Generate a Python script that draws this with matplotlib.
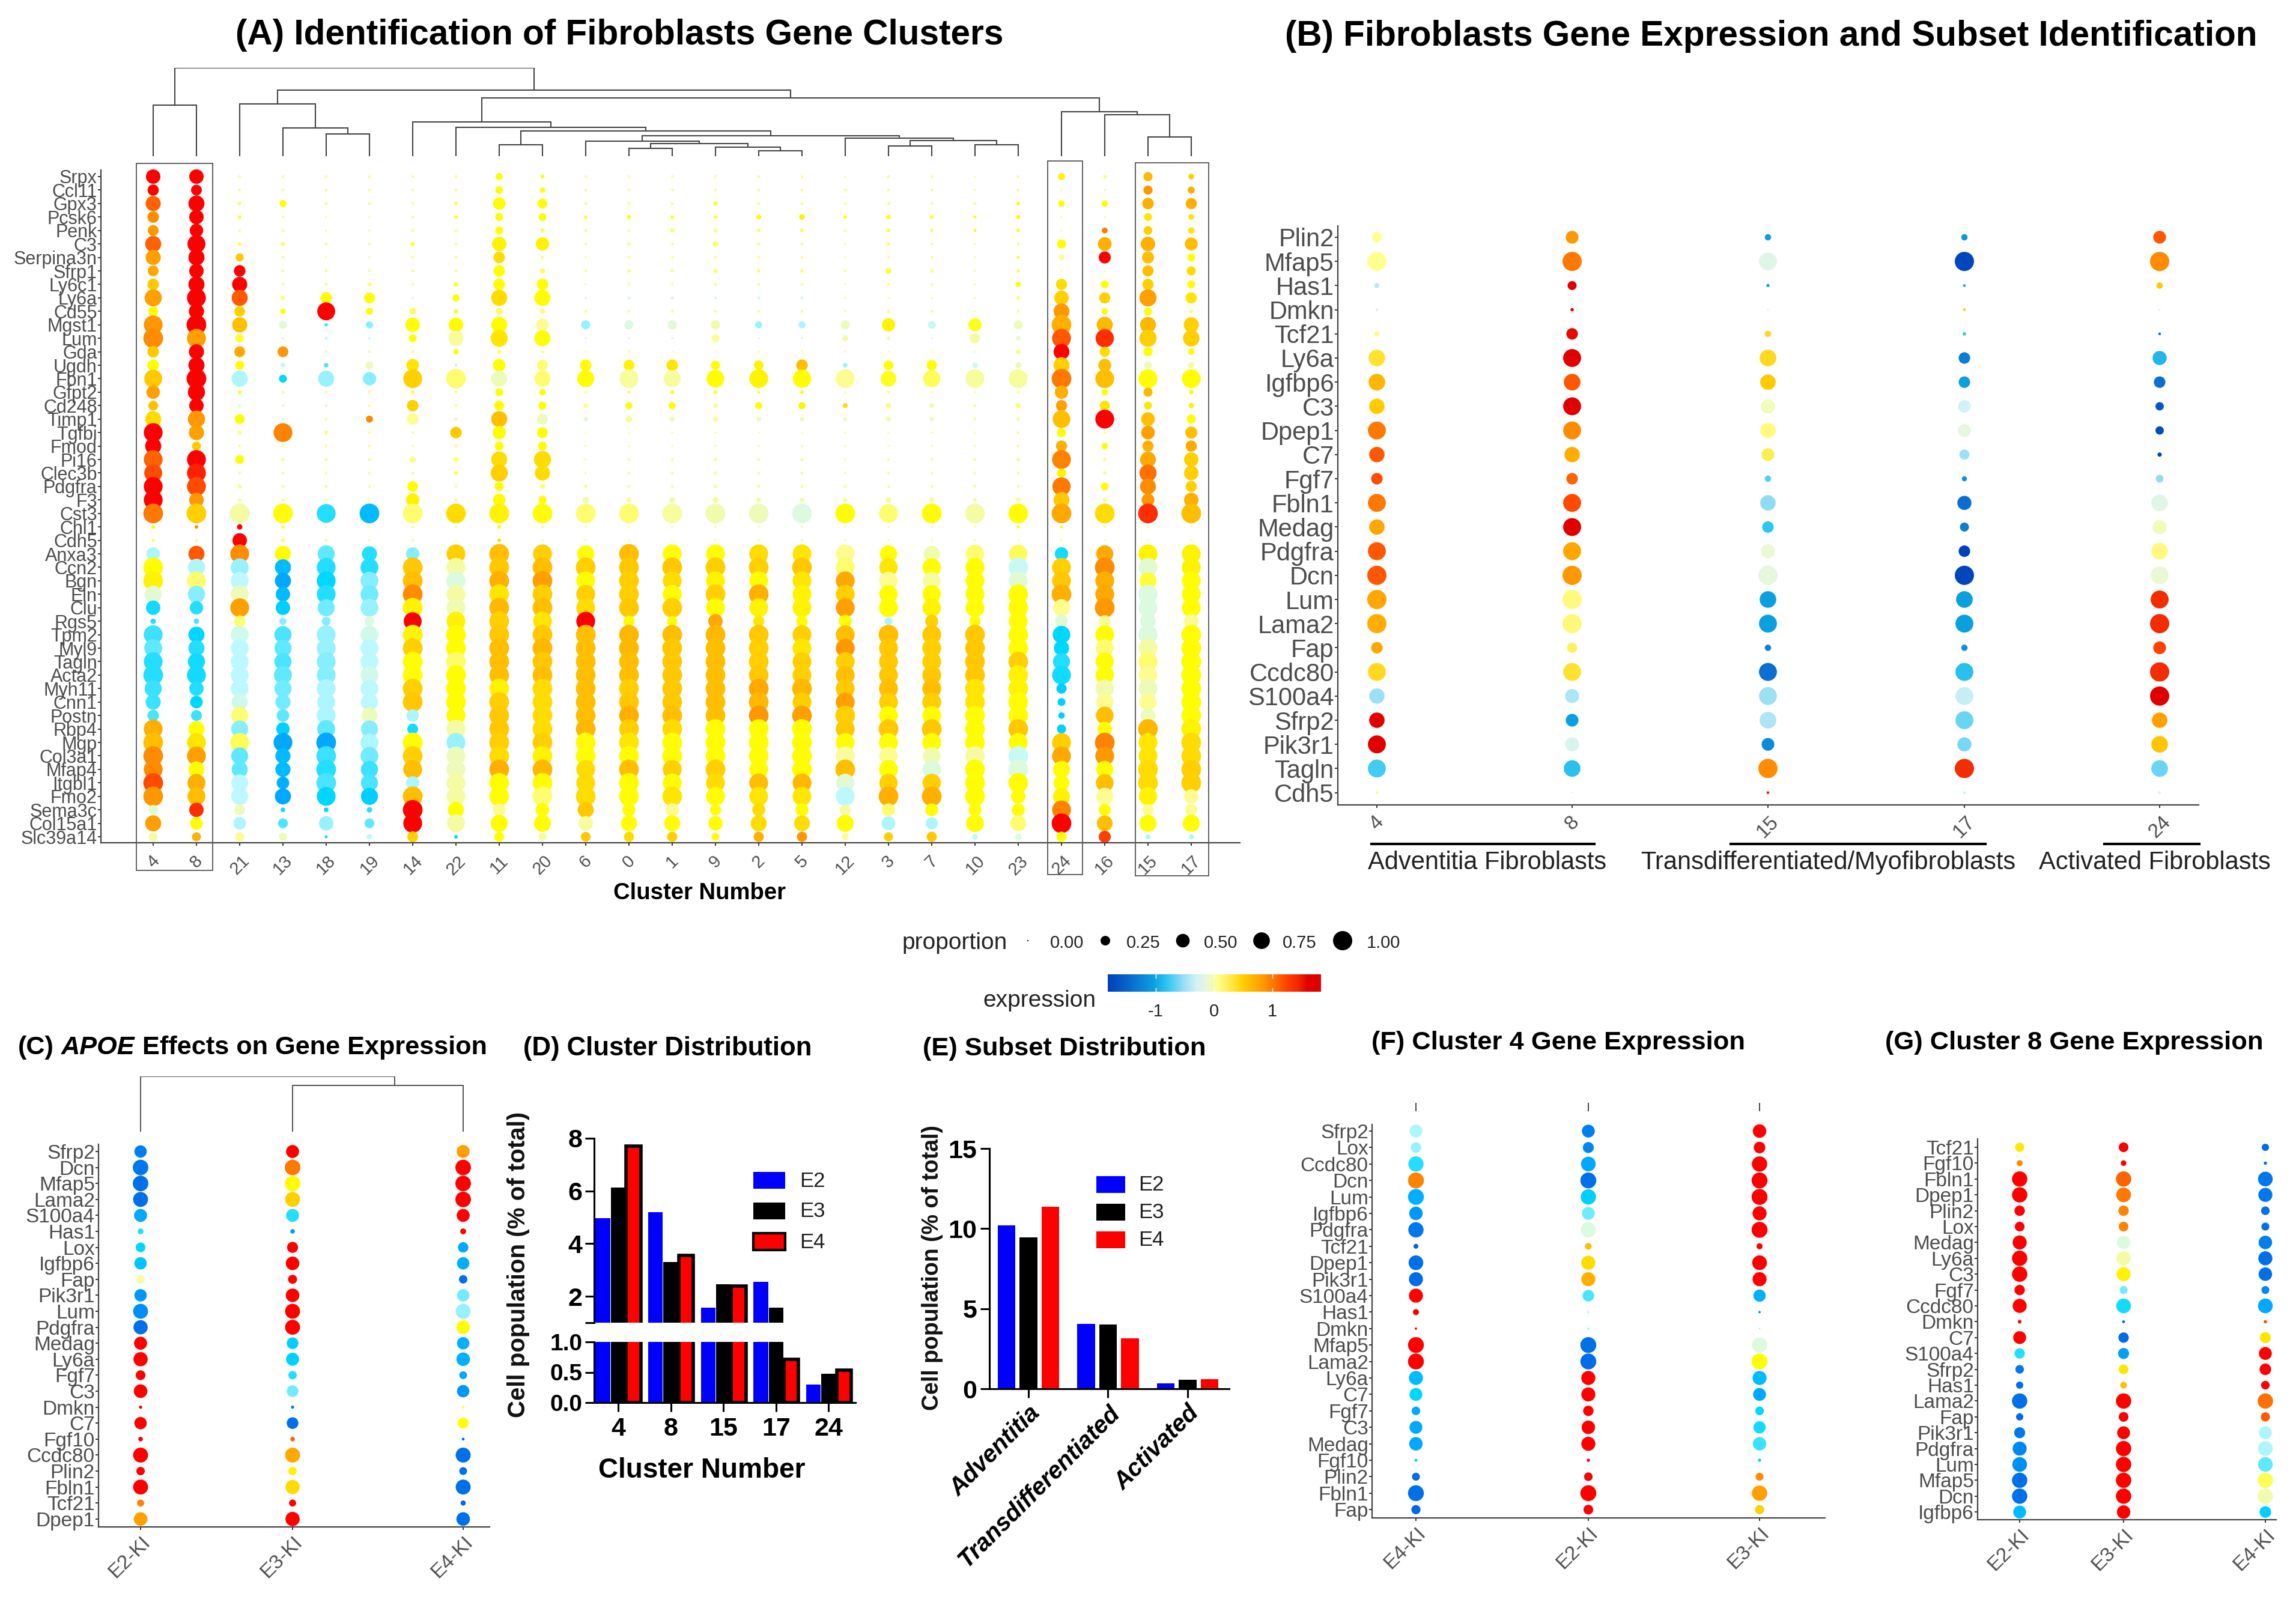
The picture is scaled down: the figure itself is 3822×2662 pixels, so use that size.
#!/usr/bin/env python3
"""Fibroblast dot plots (A, B, C, F, G) and cell population bars (D, E)."""

import numpy as np
import matplotlib
matplotlib.use("Agg")
import matplotlib.pyplot as plt
from matplotlib.colors import LinearSegmentedColormap
from matplotlib.patches import Rectangle

plt.rcParams["font.family"] = ["Liberation Sans", "DejaVu Sans"]

W, H = 3823, 2662

# ─── PANEL A DATA ──────────────────────────────────────────────────────────────
A_GENES = ["Srpx", "Ccl11", "Gpx3", "Pcsk6", "Penk", "C3", "Serpina3n", "Sfrp1", "Ly6c1", "Ly6a",
           "Cd55", "Mgst1", "Lum", "Gda", "Ugdh", "Fbn1", "Gfpt2", "Cd248", "Timp1", "Tgfbi",
           "Fmod", "Pi16", "Clec3b", "Pdgfra", "F3", "Cst3", "Chl1", "Cdh5", "Anxa3", "Ccn2",
           "Bgn", "Eln", "Clu", "Rgs5", "Tpm2", "Myl9", "Tagln", "Acta2", "Myh11", "Cnn1",
           "Postn", "Rbp4", "Mgp", "Col3a1", "Mfap4", "Itgbl1", "Fmo2", "Sema3c", "Col15a1", "Slc39a14"]
A_CLUSTERS = ["4", "8", "21", "13", "18", "19", "14", "22", "11", "20", "6", "0", "1",
              "9", "2", "5", "12", "3", "7", "10", "23", "24", "16", "15", "17"]

EXPR_4 = [1.5,1.5,1.1,.9,.85,1.1,.8,.75,.55,.8,
          .3,.85,.9,.55,.3,.55,.8,.6,.45,1.5,
          1.5,1.1,1.2,1.5,1.45,1.0,.3,.2,-.35,.3,
          .35,-.1,-.75,-.7,-.65,-.55,-.7,-.7,-.65,-.65,
          -.6,.7,.6,.9,.9,1.2,.85,-.1,.8,.0]
PROP_4 = [.5,.3,.55,.32,.28,.62,.55,.28,.32,.7,
          .23,.85,.93,.32,.32,.77,.43,.23,.62,.85,
          .62,.85,.77,.85,.85,.93,.03,.02,.43,.93,
          .93,.7,.5,.07,.85,.77,.85,.93,.7,.55,
          .32,.85,.93,.93,.85,.93,.93,.23,.62,.19]
EXPR_8 = [1.5,1.5,1.5,1.5,1.5,1.5,1.5,1.5,1.5,1.5,
          1.5,1.5,.8,1.5,1.5,1.5,1.5,1.5,.85,.8,
          .55,1.45,1.35,1.2,.85,.5,.9,.0,1.15,-.35,
          .1,-.45,-.7,-.6,-.8,-.7,-.75,-.75,-.7,-.8,
          -.65,.3,.4,.8,.3,.7,.6,1.3,.3,.7]
PROP_8 = [.5,.28,.62,.5,.43,.77,.62,.5,.62,.85,
          .55,.93,.85,.55,.62,.93,.7,.5,.7,.55,
          .19,.85,.85,.85,.5,.93,.03,.02,.62,.7,
          .85,.7,.43,.07,.62,.62,.7,.85,.5,.38,
          .28,.62,.85,.85,.62,.77,.77,.5,.38,.19]
EXPR_21 = [.05,.05,.15,.25,.05,.15,.55,1.5,1.5,1.15,
           .5,.6,.2,.75,.3,-.35,.3,-.1,.3,.1,
           .05,.3,.05,.1,.05,.0,1.5,1.5,.9,-.4,
           -.3,-.05,.8,.1,-.2,-.3,-.3,-.3,-.3,-.2,
           .1,-.45,.15,-.55,-.55,-.3,-.3,-.05,-.35,.05]
PROP_21 = [.02,.02,.03,.03,.02,.03,.16,.32,.55,.62,
           .28,.55,.19,.28,.19,.62,.03,.02,.23,.03,
           .02,.19,.02,.03,.03,.93,.07,.5,.85,.77,
           .77,.77,.85,.32,.77,.77,.77,.77,.77,.62,
           .7,.7,.85,.7,.62,.7,.7,.28,.38,.19]
EXPR_13 = [.05,.0,.3,.05,.05,.1,.0,.0,.0,.05,
           .3,-.1,-.2,.85,-.3,-.8,.0,-.1,-.05,.95,
           .0,.05,.05,.05,.05,.3,.25,.25,.3,-.95,
           -1.05,-.95,-.85,-.45,-.6,-.55,-.6,-.55,-.5,-.5,
           -.55,-.85,-1.05,-.95,-.95,-1.0,-1.05,-.75,-.6,-.05]
PROP_13 = [.02,.02,.12,.02,.02,.04,.02,.02,.02,.05,
           .07,.15,.02,.28,.05,.15,.02,.02,.02,.85,
           .02,.03,.02,.02,.02,.93,.02,.02,.62,.62,
           .62,.5,.5,.12,.7,.7,.7,.77,.7,.55,
           .38,.43,.85,.55,.55,.38,.62,.05,.23,.15]
EXPR_18 = [.05,.05,.05,.05,.05,.05,.05,.05,.05,.3,
           1.5,-.6,-.3,-.1,-.6,-.4,.05,-.1,-.05,.1,
           .05,.05,.05,.05,.05,-.7,.05,.05,-.55,-.7,
           -.8,-.7,-.5,-.45,-.4,-.4,-.45,-.45,-.35,-.35,
           -.35,-.55,-1.05,-.65,-.7,-.6,-.8,-.8,-.4,-.8]
PROP_18 = [.02,.02,.02,.01,.01,.02,.01,.02,.02,.32,
           .77,.03,.02,.02,.05,.62,.02,.02,.02,.03,
           .02,.02,.02,.02,.02,.85,.01,.02,.7,.85,
           .85,.85,.7,.19,.85,.85,.85,.85,.85,.77,
           .85,.77,.93,.93,.93,.93,.85,.05,.5,.02]
EXPR_19 = [.05,.05,.05,.05,.05,.05,.05,.05,.1,.3,
           .3,-.45,-.2,-.05,-.05,-.45,.05,.05,.9,.05,
           .05,.05,.05,.05,.05,-.95,.05,.05,-.7,-.7,
           -.45,-.5,-.4,-.15,-.2,-.3,-.3,-.2,-.3,-.3,
           -.05,-.45,-.35,-.5,-.65,-.6,-.85,-.7,-.55,-.3]
PROP_19 = [.02,.02,.02,.01,.01,.02,.01,.02,.04,.28,
           .12,.12,.02,.02,.15,.43,.02,.02,.12,.02,
           .02,.02,.02,.02,.02,.93,.01,.01,.55,.77,
           .77,.77,.77,.23,.77,.77,.77,.77,.77,.7,
           .62,.7,.77,.77,.7,.7,.7,.07,.23,.07]
EXPR_14 = [.05,.05,.1,.05,.1,.25,.05,.05,.05,-.2,
           .15,.3,.3,.05,.4,.5,.2,.5,.05,.05,
           .05,.05,.05,.3,.35,.1,.05,.05,-.45,.55,
           .6,.9,.35,1.45,.35,.5,.3,.3,.5,.55,
           -.35,-.75,.3,.5,.6,-.35,.6,1.5,1.5,.5]
PROP_14 = [.02,.02,.02,.02,.02,.04,.02,.02,.02,.01,
           .1,.5,.15,.02,.38,.85,.03,.32,.32,.02,
           .02,.1,.02,.28,.43,.93,.02,.02,.43,.93,
           .93,.93,.93,.77,.93,.93,.93,.93,.93,.93,
           .38,.28,.93,.93,.85,.43,.93,.93,.85,.28]
EXPR_22 = [.05,.05,.15,.25,.05,.05,.05,.05,.25,.3,
           .3,.3,.02,.3,-.3,.1,.05,.05,-.1,.55,
           .05,.1,.15,.05,.05,.45,.05,.05,.5,.0,
           -.15,.0,-.02,.35,.3,.3,.12,.3,.3,.3,
           .3,.0,-.4,-.05,-.05,.0,.0,.3,.0,-.8]
PROP_22 = [.02,.02,.03,.03,.02,.02,.02,.02,.05,.12,
           .04,.5,.55,.07,.02,.93,.02,.02,.03,.32,
           .02,.06,.04,.02,.02,.93,.01,.01,.85,.85,
           .85,.85,.85,.85,.93,.93,.93,.93,.93,.93,
           .85,.85,.85,.85,.85,.85,.85,.62,.77,.03]
EXPR_11 = [.3,.3,.3,.3,.3,.35,.45,.3,.3,.45,
           .1,.3,.4,.1,.3,-.05,.3,.3,.6,.3,
           .3,.45,.5,.3,.3,.35,.3,.45,.6,.55,
           .7,.4,.65,.5,.55,.6,.6,.6,.35,.5,
           .55,.55,.5,.45,.7,.3,.3,.05,.3,.3]
PROP_11 = [.12,.14,.38,.15,.15,.5,.32,.32,.32,.62,
           .12,.62,.7,.04,.38,.62,.15,.23,.62,.43,
           .19,.62,.7,.19,.38,.93,.03,.03,.93,.93,
           .93,.93,.93,.93,.93,.93,.93,.93,.93,.93,
           .93,.93,.93,.93,.93,.93,.93,.38,.7,.23]
EXPR_20 = [.25,.3,.3,.3,.15,.35,.05,.15,.3,.3,
           .1,.05,.3,.05,.1,.1,.3,.3,-.05,.3,
           .3,.45,.45,.1,.3,.3,.05,.05,.5,.6,
           .8,.5,.6,.4,.55,.65,.55,.6,.45,.45,
           .45,.45,.5,.35,.65,.3,.1,.3,.3,.0]
PROP_20 = [.04,.07,.23,.15,.04,.43,.03,.06,.32,.62,
           .06,.38,.62,.02,.28,.62,.1,.16,.28,.28,
           .19,.7,.55,.06,.16,.93,.02,.01,.85,.93,
           .93,.93,.93,.85,.93,.93,.93,.93,.93,.93,
           .93,.93,.93,.93,.93,.93,.93,.43,.7,.15]
EXPR_6 = [.05,.05,.05,.2,.05,.05,.05,.05,.05,-.2,
          .05,-.4,-.2,.05,.3,.3,.05,.05,-.1,.05,
          .05,.05,.05,.05,-.05,.1,.05,.05,.3,.5,
          .3,.5,.45,1.5,.6,.6,.6,.6,.6,.6,
          .6,.65,.3,.3,.45,.45,.45,.55,.02,.55]
PROP_6 = [.02,.02,.02,.03,.02,.02,.01,.02,.01,.01,
          .02,.2,.01,.01,.32,.7,.02,.05,.05,.01,
          .01,.01,.01,.03,.1,.93,.01,.01,.7,.93,
          .85,.85,.85,.85,.93,.93,.93,.93,.93,.93,
          .93,.93,.93,.93,.85,.85,.93,.62,.5,.23]
EXPR_0 = [.05,.05,.1,.25,.05,.05,.05,.05,.05,-.2,
          .05,-.15,-.2,.05,.35,.02,.2,.3,.05,.05,
          .05,.05,.05,.05,.0,.1,.05,.05,.6,.55,
          .5,.5,.55,.3,.65,.65,.6,.6,.5,.55,
          .7,.5,.4,.3,.6,.3,.3,.3,.3,.45]
PROP_0 = [.02,.02,.02,.04,.02,.03,.02,.03,.02,.02,
          .02,.2,.01,.01,.28,.85,.02,.12,.1,.01,
          .01,.02,.02,.02,.06,.93,.01,.01,.93,.93,
          .93,.93,.93,.3,.93,.93,.93,.93,.93,.93,
          .93,.93,.93,.93,.93,.93,.93,.4,.62,.25]
EXPR_1 = [.05,.05,.1,.25,.2,.05,.05,.05,.05,-.2,
          .05,-.1,-.2,.05,.4,.02,.3,.3,-.02,.05,
          .05,.05,.05,.05,-.02,.02,.05,.05,.3,.55,
          .45,.3,.5,.3,.6,.55,.55,.55,.55,.55,
          .6,.45,.3,.3,.5,.3,.4,.05,.3,.5]
PROP_1 = [.02,.02,.02,.03,.03,.02,.02,.03,.02,.02,
          .02,.2,.01,.01,.32,.7,.03,.12,.06,.01,
          .01,.02,.02,.02,.08,.93,.01,.01,.85,.93,
          .85,.85,.93,.25,.93,.93,.93,.93,.93,.93,
          .93,.93,.93,.93,.85,.85,.93,.43,.62,.25]
EXPR_9 = [.05,.05,.25,.25,.1,.1,.05,.15,.05,-.2,
          .05,-.02,.05,.05,.3,.3,.2,.05,.05,.05,
          .05,.05,.05,.05,.0,-.02,.05,.05,.3,.5,
          .35,.5,.3,.75,.65,.6,.6,.6,.6,.6,
          .6,.3,.3,.3,.5,.45,.3,.3,.3,.3]
PROP_9 = [.02,.02,.04,.03,.03,.08,.02,.04,.02,.02,
          .02,.2,.15,.01,.2,.75,.04,.05,.06,.01,
          .01,.03,.03,.03,.08,.93,.01,.01,.85,.93,
          .85,.93,.85,.5,.93,.93,.93,.93,.93,.93,
          .93,.93,.93,.93,.93,.85,.85,.3,.5,.15]
EXPR_2 = [.05,.05,.1,.3,.15,.05,.05,.1,.05,-.2,
          .05,-.4,-.2,.05,.35,.35,.25,.3,-.02,.05,
          .05,.05,.05,.05,.0,-.05,.05,.05,.45,.5,
          .3,.7,.35,.4,.55,.5,.5,.55,.75,.65,
          .85,.3,.3,.3,.3,.6,.4,.45,.45,.7]
PROP_2 = [.02,.02,.02,.06,.03,.03,.02,.03,.02,.02,
          .02,.12,.01,.01,.22,.85,.02,.12,.05,.01,
          .01,.02,.02,.02,.05,.93,.01,.01,.85,.93,
          .85,.93,.85,.3,.93,.93,.93,.93,.93,.93,
          .93,.93,.93,.93,.85,.85,.85,.4,.62,.25]
EXPR_5 = [.05,.05,.05,.35,.2,.05,.05,.1,.05,-.2,
          .05,-.35,-.2,.05,.6,.3,.3,.35,-.05,.05,
          .05,.05,.05,.05,.0,-.15,.05,.05,.4,.55,
          .4,.35,.35,.3,.5,.4,.5,.5,.65,.5,
          .8,.3,.3,.3,.3,.65,.4,.3,.45,.85]
PROP_5 = [.02,.02,.02,.08,.03,.02,.02,.03,.02,.02,
          .02,.12,.01,.01,.32,.8,.03,.12,.05,.01,
          .01,.02,.02,.02,.05,.93,.01,.01,.85,.93,
          .85,.85,.85,.3,.85,.85,.85,.85,.93,.85,
          .93,.93,.93,.93,.93,.85,.85,.4,.6,.25]
EXPR_12 = [.05,.05,.05,.3,.05,.05,.05,.05,.05,.05,
           .05,-.05,.0,.05,-.4,.05,.05,.45,-.02,.05,
           .05,.05,.05,.05,.0,.3,.05,.05,.05,.1,
           .75,.5,.8,.3,.6,.85,.5,.6,.55,.8,
           .5,.55,.3,.02,.6,-.1,-.3,.0,.3,.05]
PROP_12 = [.01,.02,.02,.03,.02,.01,.01,.02,.01,.01,
           .01,.2,.08,.01,.05,.85,.01,.06,.04,.01,
           .01,.01,.01,.02,.04,.93,.01,.01,.85,.85,
           .85,.85,.85,.4,.85,.85,.85,.85,.85,.85,
           .93,.85,.85,.85,.93,.8,.85,.3,.7,.12]
EXPR_3 = [.05,.05,.1,.25,.2,.1,.05,.2,.05,.05,
          .05,.35,-.05,.05,.3,.25,.05,.1,.0,.05,
          .05,.05,.05,.05,.0,.1,.05,.05,.3,.4,
          .05,.3,.3,-.35,.6,.55,.55,.55,.6,.5,
          .3,.55,.3,.05,.3,.5,.7,.1,-.35,.5]
PROP_3 = [.02,.02,.02,.05,.03,.03,.02,.08,.02,.01,
          .03,.42,.03,.01,.22,.6,.02,.06,.06,.01,
          .01,.02,.02,.02,.08,.85,.01,.01,.7,.8,
          .8,.8,.85,.15,.93,.85,.85,.85,.85,.85,
          .85,.93,.85,.8,.85,.8,.93,.4,.45,.2]
EXPR_7 = [.05,.05,.05,.2,.1,.05,.05,.05,.05,.05,
          .05,-.25,-.2,.05,.3,.15,.05,.0,-.05,.05,
          .05,.05,.05,.05,-.02,.3,.05,.05,-.02,.3,
          .02,.3,.35,.5,.55,.5,.5,.55,.6,.5,
          .3,.55,.3,-.02,-.15,.5,.7,.3,-.35,.55]
PROP_7 = [.02,.02,.02,.04,.03,.02,.02,.03,.02,.01,
          .02,.15,.01,.01,.25,.7,.01,.05,.05,.01,
          .01,.02,.02,.02,.06,.93,.01,.01,.62,.8,
          .75,.8,.8,.4,.85,.85,.85,.85,.85,.85,
          .85,.93,.85,.75,.8,.8,.93,.4,.35,.25]
EXPR_10 = [.05,.05,.05,.3,.3,.05,.05,.05,.05,.05,
           .05,.25,.0,.05,-.2,.02,.05,.05,.05,.05,
           .05,.05,.05,.05,.0,.0,.05,.05,.1,.3,
           .3,.3,.3,.3,.55,.55,.55,.55,.4,.4,
           .3,.3,.3,.0,.3,.3,.3,.3,.3,-.3]
PROP_10 = [.01,.01,.02,.02,.02,.01,.01,.01,.01,.01,
           .01,.42,.25,.01,.08,.85,.01,.02,.02,.01,
           .01,.02,.02,.02,.03,.93,.01,.01,.8,.85,
           .85,.85,.85,.3,.93,.93,.93,.93,.93,.93,
           .93,.93,.93,.9,.93,.93,.93,.4,.75,.08]
EXPR_23 = [.05,.05,.3,.3,.2,.1,.3,.1,.3,.1,
           .05,-.05,-.1,.1,-.02,.02,.05,.15,.05,.05,
           .05,.05,.05,.05,-.05,.3,.3,.05,.15,-.25,
           -.1,.3,.3,.3,.3,.3,.5,.35,.35,.3,
           .3,.55,.3,-.25,-.15,.3,.3,.3,.1,-.15]
PROP_23 = [.02,.02,.03,.04,.03,.02,.02,.03,.07,.03,
           .02,.2,.05,.04,.08,.85,.02,.05,.03,.02,
           .02,.03,.02,.02,.06,.93,.02,.01,.8,.93,
           .85,.93,.93,.85,.93,.93,.93,.93,.93,.93,
           .93,.93,.85,.93,.93,.93,.5,.4,.6,.1]
EXPR_24 = [.35,.1,.3,.1,.05,.3,.05,.05,.45,.5,
           .85,.7,1.15,1.5,.5,1.0,.7,.8,.6,.3,
           .7,.95,.35,1.0,.55,.75,.3,.05,-.75,.5,
           .55,.7,.05,-.1,-.8,-.8,-.7,-.75,-.85,-.85,
           -.85,-.85,.5,.75,.3,.3,.35,.95,1.45,.3]
PROP_24 = [.12,.01,.1,.01,.01,.2,.08,.01,.3,.5,
           .6,.93,.85,.6,.62,.93,.43,.3,.75,.2,
           .3,.85,.2,.8,.6,.93,.02,.01,.43,.85,
           .85,.93,.7,.4,.75,.55,.7,.85,.25,.15,
           .1,.2,.85,.85,.7,.6,.7,.85,.93,.25]
EXPR_16 = [.1,.05,.3,.05,1.0,.7,1.5,.05,.3,.5,
           .3,.65,1.3,.45,.6,.6,.3,.4,1.5,.05,
           .3,.05,.05,.3,.0,.45,.05,.05,.75,.9,
           .7,.75,.85,.05,.3,.1,.3,.3,-.02,.05,
           .6,.3,.95,.85,.3,.6,.05,.3,.6,1.25]
PROP_16 = [.03,.01,.1,.01,.08,.45,.35,.01,.15,.3,
           .1,.62,.8,.25,.4,.85,.1,.25,.85,.02,
           .1,.03,.03,.15,.05,.93,.02,.01,.7,.93,
           .85,.85,.93,.35,.85,.75,.8,.8,.8,.7,
           .75,.5,.93,.85,.7,.75,.7,.35,.6,.35]
EXPR_15 = [.65,.85,.7,.4,.5,.7,.6,.6,.5,.8,
           .3,.65,.5,.3,-.05,.3,.65,.4,.6,.8,
           .7,.75,1.05,.9,.85,1.3,.05,.05,.35,-.1,
           .2,-.15,-.15,-.15,-.15,.0,.1,.05,-.05,.05,
           -.05,.65,.4,.4,.45,.45,.35,.05,.3,-.35]
PROP_15 = [.2,.2,.32,.15,.18,.5,.35,.3,.3,.7,
           .15,.6,.7,.2,.15,.85,.2,.15,.45,.45,
           .3,.6,.7,.6,.4,.93,.01,.01,.85,.85,
           .7,.85,.85,.6,.85,.85,.85,.85,.85,.7,
           .5,.93,.85,.85,.93,.93,.8,.3,.7,.06]
EXPR_17 = [.5,.7,.7,.4,.4,.6,.3,.45,.3,.4,
           .1,.5,.5,.3,.0,.3,.3,.35,.3,.6,
           .75,.5,.5,.5,.7,.6,.05,.05,.35,.35,
           .3,.3,.3,.05,.3,.3,.3,.3,.3,.3,
           .3,.35,.45,.45,.5,.5,.05,.05,.3,-.35]
PROP_17 = [.08,.12,.3,.08,.1,.4,.15,.2,.15,.3,
           .04,.55,.65,.1,.1,.85,.05,.07,.2,.35,
           .3,.5,.5,.3,.5,.93,.01,.01,.85,.85,
           .85,.85,.85,.5,.93,.93,.93,.93,.93,.93,
           .93,.93,.93,.93,.93,.93,.5,.35,.7,.06]

A_EXPR = [EXPR_4, EXPR_8, EXPR_21, EXPR_13, EXPR_18, EXPR_19, EXPR_14, EXPR_22, EXPR_11, EXPR_20,
          EXPR_6, EXPR_0, EXPR_1, EXPR_9, EXPR_2, EXPR_5, EXPR_12, EXPR_3, EXPR_7, EXPR_10,
          EXPR_23, EXPR_24, EXPR_16, EXPR_15, EXPR_17]
A_PROP = [PROP_4, PROP_8, PROP_21, PROP_13, PROP_18, PROP_19, PROP_14, PROP_22, PROP_11, PROP_20,
          PROP_6, PROP_0, PROP_1, PROP_9, PROP_2, PROP_5, PROP_12, PROP_3, PROP_7, PROP_10,
          PROP_23, PROP_24, PROP_16, PROP_15, PROP_17]

# dendrogram merges: left, right, height; "nN" is the result of merge N
A_MERGES = [("4", "8", 85), ("18", "19", 37), ("13", "n1", 47), ("21", "n2", 87),
            ("11", "20", 19), ("0", "1", 13), ("2", "5", 9), ("9", "n6", 15),
            ("n5", "n7", 21), ("6", "n8", 25), ("3", "7", 17), ("10", "23", 19),
            ("n10", "n11", 26), ("12", "n12", 30), ("n9", "n13", 34), ("n4", "n14", 42),
            ("22", "n15", 48), ("14", "n16", 57), ("15", "17", 32), ("16", "n18", 69),
            ("24", "n19", 74), ("n17", "n20", 97), ("n3", "n21", 110), ("n0", "n22", 147)]

# ─── PANEL B DATA ──────────────────────────────────────────────────────────────
B_GENES = ["Plin2", "Mfap5", "Has1", "Dmkn", "Tcf21", "Ly6a", "Igfbp6", "C3", "Dpep1", "C7", "Fgf7", "Fbln1",
           "Medag", "Pdgfra", "Dcn", "Lum", "Lama2", "Fap", "Ccdc80", "S100a4", "Sfrp2", "Pik3r1", "Tagln", "Cdh5"]
B_CLUSTERS = ["4", "8", "15", "17", "24"]
B_EXPR_4 = [.05,.05,-.4,-.25,.1,.35,.65,.5,1.0,1.15,1.2,1.0,.75,1.15,1.15,.75,.7,.75,.4,-.5,1.6,1.6,-.75,.1]
B_PROP_4 = [.28,1.0,.07,.02,.07,.75,.75,.64,.87,.64,.36,.87,.64,.87,1.0,1.0,1.0,.36,.87,.64,.64,.87,.87,.02]
B_EXPR_8 = [.85,1.0,1.6,1.6,1.55,1.6,1.15,1.6,.9,.7,1.1,1.2,1.6,.75,.85,.1,.12,.2,.35,-.45,-1.05,-.25,-.85,-.1]
B_PROP_8 = [.44,1.0,.22,.03,.36,.87,.75,.87,.87,.64,.36,.87,.87,.87,1.0,1.0,1.0,.28,.87,.54,.44,.54,.75,.01]
B_EXPR_15 = [-1.05,-.2,-1.0,-.2,.4,.4,.5,-.05,.1,.25,-.7,-.55,-.8,-.1,-.15,-1.05,-1.05,-1.25,-1.4,-.5,-.45,-1.2,.9,1.5]
B_PROP_15 = [.11,.87,.03,.01,.11,.75,.64,.54,.64,.44,.11,.64,.36,.54,1.0,.75,.87,.11,.87,.87,.75,.44,1.0,.02]
B_EXPR_17 = [-1.1,-1.75,-1.0,.5,-.8,-1.3,-1.05,-.3,-.15,-.5,-1.15,-1.4,-1.3,-1.8,-1.75,-1.05,-1.05,-1.15,-.85,-.35,-.65,-.6,1.4,-.35]
B_PROP_17 = [.11,1.0,.02,.02,.03,.36,.36,.44,.44,.28,.07,.54,.22,.36,1.0,.75,.87,.11,.87,.87,.87,.54,1.0,.02]
B_EXPR_24 = [1.15,.9,.5,-.2,-1.3,-.9,-1.4,-1.6,-1.7,-1.75,-.55,-.2,-.05,.1,-.1,1.4,1.4,1.25,1.4,1.6,.8,.55,-.65,-.25]
B_PROP_24 = [.44,1.0,.11,.01,.02,.54,.36,.19,.19,.05,.16,.75,.54,.75,.87,.87,1.0,.44,1.0,1.0,.64,.75,.75,.02]

SUBSET_NAMES = ["Adventitia Fibroblasts", "Transdifferentiated/Myofibroblasts", "Activated Fibroblasts"]

# ─── PANEL C DATA ──────────────────────────────────────────────────────────────
C_GENES = ["Sfrp2", "Dcn", "Mfap5", "Lama2", "S100a4", "Has1", "Lox", "Igfbp6", "Fap", "Pik3r1", "Lum", "Pdgfra",
           "Medag", "Ly6a", "Fgf7", "C3", "Dmkn", "C7", "Fgf10", "Ccdc80", "Plin2", "Fbln1", "Tcf21", "Dpep1"]
C_GROUPS = ["E2-KI", "E3-KI", "E4-KI"]
C_EXPR_E2 = [-1.3,-1.35,-1.4,-1.4,-1.05,-.7,-.8,-.9,.0,-1.15,-1.2,-1.4,1.5,1.5,1.5,1.5,1.5,1.5,1.5,1.5,1.5,1.5,.95,.8]
C_PROP_E2 = [.58,.92,.92,.85,.64,.13,.36,.58,.27,.58,.85,.77,.64,.77,.36,.7,.04,.58,.08,.85,.27,.85,.19,.7]
C_EXPR_E3 = [1.5,1.0,.3,.5,-.7,-1.1,1.5,1.5,1.5,1.5,1.5,1.5,-.85,-.85,-.7,-.5,-1.3,-1.4,1.1,.75,.35,.45,1.5,1.5]
C_PROP_E3 = [.64,.92,.92,.85,.64,.08,.46,.7,.31,.7,.85,.85,.52,.64,.27,.52,.04,.52,.08,.85,.27,.77,.19,.77]
C_EXPR_E4 = [.8,1.5,1.5,1.5,1.5,1.5,-1.05,-1.0,-1.4,-.5,-.4,.3,-1.0,-1.0,-1.05,-1.15,.15,.3,-1.4,-1.4,-1.4,-1.4,-1.5,-1.4]
C_PROP_E4 = [.64,.92,.92,.92,.64,.13,.41,.58,.27,.58,.85,.7,.58,.7,.23,.58,.03,.46,.03,.85,.23,.85,.1,.7]

# ─── PANEL D / E DATA ──────────────────────────────────────────────────────────
D_CLUSTERS = ["4", "8", "15", "17", "24"]
D_E2 = [4.97, 5.2, 1.58, 2.55, 0.3]
D_E3 = [6.14, 3.3, 2.45, 1.58, 0.48]
D_E4 = [7.7, 3.56, 2.4, 0.71, 0.53]
E_SUBSETS = ["Adventitia", "Transdifferentiated", "Activated"]
E_E2 = [10.2, 4.05, 0.35]
E_E3 = [9.45, 4.0, 0.55]
E_E4 = [11.35, 3.15, 0.6]
ALLELES = ["E2", "E3", "E4"]

# ─── PANEL F DATA ──────────────────────────────────────────────────────────────
F_GENES = ["Sfrp2", "Lox", "Ccdc80", "Dcn", "Lum", "Igfbp6", "Pdgfra", "Tcf21", "Dpep1", "Pik3r1", "S100a4", "Has1",
           "Dmkn", "Mfap5", "Lama2", "Ly6a", "C7", "Fgf7", "C3", "Medag", "Fgf10", "Plin2", "Fbln1", "Fap"]
F_GROUPS = ["E4-KI", "E2-KI", "E3-KI"]
F_EXPR_E4 = [-.35,-.4,-.7,.95,-1.0,-1.15,-1.35,-1.55,-1.4,-1.45,1.5,1.5,1.5,1.5,1.5,-.95,-.8,-1.05,-1.05,-1.05,-.9,-1.4,-1.4,-1.5]
F_PROP_E4 = [.63,.41,.89,.96,.96,.69,.89,.09,.82,.75,.75,.14,.02,.96,.96,.75,.63,.28,.63,.69,.03,.24,.96,.32]
F_EXPR_E2 = [-1.3,-1.25,-1.05,-1.4,-.85,-.5,-.15,.6,.45,.7,-.6,-.35,-.4,-1.4,-1.45,1.5,1.5,1.5,1.5,1.5,1.5,1.5,1.5,1.5]
F_PROP_E2 = [.63,.46,.82,.96,.89,.63,.89,.17,.75,.75,.51,.02,.02,.96,.96,.75,.75,.41,.69,.75,.04,.28,.96,.36]
F_EXPR_E3 = [1.5,1.5,1.5,1.5,1.5,1.5,1.5,1.5,1.5,1.5,-1.0,-1.3,-.4,-.15,.3,-.95,-1.05,-.8,-.75,-.65,-.8,.9,.8,.5]
F_PROP_E3 = [.69,.51,.89,.96,.96,.75,.96,.14,.82,.75,.57,.02,.01,.89,.96,.75,.63,.28,.57,.69,.04,.24,.89,.32]

# ─── PANEL G DATA ──────────────────────────────────────────────────────────────
G_GENES = ["Tcf21", "Fgf10", "Fbln1", "Dpep1", "Plin2", "Lox", "Medag", "Ly6a", "C3", "Fgf7", "Ccdc80", "Dmkn",
           "C7", "S100a4", "Sfrp2", "Has1", "Lama2", "Fap", "Pik3r1", "Pdgfra", "Lum", "Mfap5", "Dcn", "Igfbp6"]
G_GROUPS = ["E2-KI", "E3-KI", "E4-KI"]
G_EXPR_E2 = [.4,.9,1.5,1.5,1.5,1.5,1.5,1.5,1.5,1.5,1.5,1.5,1.5,-.7,-1.35,-1.4,-1.4,-1.45,-1.35,-1.25,-1.2,-1.4,-1.4,-.95]
G_PROP_E2 = [.32,.14,.89,.89,.41,.36,.75,.89,.89,.41,.75,.05,.63,.41,.28,.2,.89,.2,.46,.75,.82,.89,.89,.63]
G_EXPR_E3 = [1.5,1.5,1.1,1.0,.95,.95,-.15,.0,.35,-.5,-.75,-1.6,-1.45,-1.1,.4,.6,1.5,1.5,1.5,1.5,1.5,1.5,1.5,1.5]
G_PROP_E3 = [.36,.12,.89,.82,.41,.36,.69,.75,.75,.24,.82,.03,.41,.46,.36,.17,.89,.36,.63,.89,.89,.89,.89,.69]
G_EXPR_E4 = [-1.45,-1.45,-1.35,-1.35,-1.4,-1.4,-1.3,-1.4,-1.4,-1.25,-1.05,1.2,.4,1.5,1.5,1.5,1.05,1.15,-.35,-.35,-.55,.15,-.02,-.85]
G_PROP_E4 = [.2,.04,.82,.75,.28,.24,.69,.75,.69,.24,.82,.04,.46,.63,.51,.28,.89,.32,.63,.82,.82,.89,.89,.51]

# legend
SIZE_LEVELS = [0.0, 0.25, 0.5, 0.75, 1.0]
SIZE_LABELS = ["0.00", "0.25", "0.50", "0.75", "1.00"]
EXPR_TICKS = [-1, 0, 1]

# ─── COLOURS ───────────────────────────────────────────────────────────────────
STOPS = [-1.82, -1.4, -1.05, -.8, -.55, -.3, -.12, .05, .3, .5, .8, 1.05, 1.25, 1.45, 1.6, 1.82]
BRIGHT_COLOURS = ["#0050d8", "#0070e8", "#00a8ff", "#00d8ff", "#60e8ff", "#c0f8ff", "#e0fad8", "#fcfc90",
                  "#ffff00", "#ffd000", "#ffa000", "#ff7000", "#ff4000", "#ff0000", "#ff0000", "#ff0000"]
MUTED_COLOURS = ["#0040b8", "#0a70d0", "#0aa0e0", "#30c8f0", "#90dcf5", "#d5f3f5", "#e8f8d8", "#ffff90",
                 "#ffe840", "#ffcc00", "#ffa000", "#ff7000", "#ff4000", "#f02800", "#e00000", "#e00000"]
pos = [(s - STOPS[0]) / (STOPS[-1] - STOPS[0]) for s in STOPS]
BRIGHT = LinearSegmentedColormap.from_list("bright", list(zip(pos, BRIGHT_COLOURS)))
MUTED = LinearSegmentedColormap.from_list("muted", list(zip(pos, MUTED_COLOURS)))

GREY = "#4d4d4d"
AXIS = "#444444"

fig = plt.figure(figsize=(W / 100, H / 100), dpi=100)
renderer = fig.canvas.get_renderer()


def px_axes(left, top, right, bottom):
    """Axes placed by pixel edges of the picture."""
    ax = fig.add_axes([left / W, 1 - bottom / H, (right - left) / W, (bottom - top) / H])
    ax.patch.set_alpha(0)
    return ax


def dot_panel(left, top, right, bottom, col_px, y0, dy, genes, names, exprs, props, cmap,
              dmax, fs, xfs=None, xha="right", pad=4):
    """Bubble plot: x in picture pixels, y in gene rows."""
    ax = px_axes(left, top, right, bottom)
    ax.set_xlim(left, right)
    ax.set_ylim((bottom - y0) / dy, (top - y0) / dy)
    for x, e, p in zip(col_px, exprs, props):
        d = dmax * np.sqrt(np.array(p)) * 0.72
        ax.scatter([x] * len(genes), range(len(genes)), s=d ** 2, c=e, cmap=cmap,
                   vmin=STOPS[0], vmax=STOPS[-1], linewidths=0, clip_on=False)
    ax.set_yticks(range(len(genes)))
    ax.set_yticklabels(genes, fontsize=fs, color=GREY)
    ax.set_xticks(col_px)
    ax.set_xticklabels(names, fontsize=xfs or fs, color=GREY, rotation=45, ha=xha,
                       rotation_mode="anchor" if xha == "right" else "default")
    ax.tick_params(axis="both", length=3.5, width=1.4, color="#333333")
    ax.tick_params(axis="y", pad=1)
    ax.tick_params(axis="x", pad=pad)
    for side in ("top", "right"):
        ax.spines[side].set_visible(False)
    for side in ("left", "bottom"):
        ax.spines[side].set_color(AXIS)
        ax.spines[side].set_linewidth(1.6)
    return ax


def draw_tree(ax, merges, leaf_x):
    """Dendrogram from merge list; node x is the middle of its children."""
    nodes = []
    for left, right, h in merges:
        points = []
        for child in (left, right):
            if child.startswith("n"):
                points.append(nodes[int(child[1:])])
            else:
                points.append((leaf_x[child], 0))
        (x1, h1), (x2, h2) = points
        ax.plot([x1, x1, x2, x2], [h1, h, h, h2], color=AXIS, lw=1.5, solid_joinstyle="miter")
        nodes.append(((x1 + x2) / 2, h))


def fit_text(ov, x, y, parts, width, **kw):
    """Left aligned bold title made of (text, style) parts, scaled to a pixel width."""
    probes = [ov.text(0, 0, s, fontsize=40, fontweight="bold", fontstyle=st) for s, st in parts]
    total = sum(t.get_window_extent(renderer).width for t in probes)
    total += 0.278 * 40 * 100 / 72 * (len(parts) - 1)
    fs = 40 * width / total
    for t in probes:
        t.remove()
    for s, st in parts:
        t = ov.text(x, y, s, fontsize=fs, fontweight="bold", fontstyle=st, va="center", ha="left", **kw)
        x += t.get_window_extent(renderer).width + 0.278 * fs * 100 / 72


# ─── PANEL A ───────────────────────────────────────────────────────────────────
a_x = [255 + 72 * i for i in range(len(A_CLUSTERS))]
dot_panel(168, 283, 2064, 1403, a_x, 294, 22.43, A_GENES, A_CLUSTERS, A_EXPR, A_PROP, BRIGHT,
          34, 22, xfs=21, xha="center", pad=8)
tree = px_axes(168, 113, 2064, 260)
tree.set_xlim(168, 2064)
tree.set_ylim(0, 147)
tree.axis("off")
draw_tree(tree, A_MERGES, dict(zip(A_CLUSTERS, a_x)))

# ─── PANEL B ───────────────────────────────────────────────────────────────────
b_x = [2292, 2617, 2943, 3270, 3595]
dot_panel(2227, 376, 3660, 1340, b_x, 395, 40.2, B_GENES, B_CLUSTERS,
          [B_EXPR_4, B_EXPR_8, B_EXPR_15, B_EXPR_17, B_EXPR_24],
          [B_PROP_4, B_PROP_8, B_PROP_15, B_PROP_17, B_PROP_24], MUTED,
          32, 30, xfs=24, xha="center", pad=6)

# ─── PANEL C ───────────────────────────────────────────────────────────────────
c_x = [234, 487, 771]
dot_panel(164, 1905, 815, 2542, c_x, 1917, 26.6, C_GENES, C_GROUPS,
          [C_EXPR_E2, C_EXPR_E3, C_EXPR_E4], [C_PROP_E2, C_PROP_E3, C_PROP_E4], BRIGHT, 27, 24)
c_tree = px_axes(164, 1792, 815, 1884)
c_tree.set_xlim(164, 815)
c_tree.set_ylim(0, 92)
c_tree.axis("off")
c_tree.plot([c_x[1], c_x[1], c_x[2], c_x[2]], [0, 77, 77, 0], color=AXIS, lw=1.3)
c_tree.plot([c_x[0], c_x[0], 657, 657], [0, 92, 92, 77], color=AXIS, lw=1.3)

# ─── PANEL D (broken axis) ─────────────────────────────────────────────────────
d_colours = ["#0000ff", "#000000", "#ff0000"]
d_left, d_right = 989, 1424
d_upper = px_axes(d_left, 1895, d_right, 2202)
d_lower = px_axes(d_left, 2234, d_right, 2335)
for ax, ylim in ((d_upper, (1, 8)), (d_lower, (0, 1))):
    ax.set_xlim((d_left - 1029) / 87.6, (d_right - 1029) / 87.6)
    ax.set_ylim(*ylim)
    for off, vals, col, edge, lw in ((-.29, D_E2, d_colours[0], d_colours[0], 0),
                                     (0, D_E3, d_colours[1], d_colours[1], 0),
                                     (.29, D_E4, d_colours[2], "black", 4)):
        ax.bar(np.arange(5) + off, vals, width=.28, color=col, edgecolor=edge, linewidth=lw)
    ax.spines["top"].set_visible(False)
    ax.spines["right"].set_visible(False)
    ax.spines["left"].set_linewidth(2.2)
    ax.tick_params(axis="y", length=11, width=2.2, pad=3)
d_upper.spines["bottom"].set_visible(False)
d_upper.set_xticks([])
d_upper.set_yticks([1, 2, 4, 6, 8])
d_upper.set_yticklabels(["", "2", "4", "6", "8"], fontsize=31, fontweight="bold")
d_lower.spines["bottom"].set_linewidth(2.2)
d_lower.set_yticks([0, .5, 1])
d_lower.set_yticklabels(["0.0", "0.5", "1.0"], fontsize=28, fontweight="bold")
d_lower.set_xticks(range(5))
d_lower.set_xticklabels(D_CLUSTERS, fontsize=31, fontweight="bold")
d_lower.tick_params(axis="x", length=11, width=2.2, pad=6)

# ─── PANEL E ───────────────────────────────────────────────────────────────────
e_left, e_right = 1647, 2046
e_ax = px_axes(e_left, 1912, e_right, 2312)
e_ax.set_xlim((e_left - 1712) / 132.5, (e_right - 1712) / 132.5)
e_ax.set_ylim(0, 15)
for off, vals, col in ((-.275, E_E2, "#0000ff"), (0, E_E3, "#000000"), (.275, E_E4, "#ff0000")):
    e_ax.bar(np.arange(3) + off, vals, width=.225, color=col)
e_ax.set_yticks([0, 5, 10, 15])
e_ax.set_yticklabels(["0", "5", "10", "15"], fontsize=31, fontweight="bold")
e_ax.set_xticks(range(3))
e_ax.set_xticklabels(E_SUBSETS, fontsize=29, fontweight="bold", fontstyle="italic", rotation=45,
                     ha="right", rotation_mode="anchor")
e_ax.tick_params(axis="both", length=11, width=2.2, pad=4)
for side in ("top", "right"):
    e_ax.spines[side].set_visible(False)
for side in ("left", "bottom"):
    e_ax.spines[side].set_linewidth(2.2)

# ─── PANEL F ───────────────────────────────────────────────────────────────────
f_x = [2357, 2644, 2929]
dot_panel(2284, 1872, 3038, 2527, f_x, 1883, 27.4, F_GENES, F_GROUPS,
          [F_EXPR_E4, F_EXPR_E2, F_EXPR_E3], [F_PROP_E4, F_PROP_E2, F_PROP_E3], BRIGHT, 27, 24)

# ─── PANEL G ───────────────────────────────────────────────────────────────────
g_x = [3362, 3535, 3771]
dot_panel(3292, 1896, 3789, 2530, g_x, 1910, 26.4, G_GENES, G_GROUPS,
          [G_EXPR_E2, G_EXPR_E3, G_EXPR_E4], [G_PROP_E2, G_PROP_E3, G_PROP_E4], BRIGHT, 27, 24)

# ─── COLOUR BAR ────────────────────────────────────────────────────────────────
cbar = px_axes(1844, 1622, 2198, 1651)
cbar.imshow(np.linspace(STOPS[0], STOPS[-1], 400)[None, :], cmap=MUTED, aspect="auto",
            extent=(STOPS[0], STOPS[-1], 0, 1), vmin=STOPS[0], vmax=STOPS[-1])
cbar.set_yticks([])
cbar.set_xticks(EXPR_TICKS)
cbar.set_xticklabels(["-1", "0", "1"], fontsize=21, color="#222222")
cbar.tick_params(axis="x", length=0, pad=14)
for t in EXPR_TICKS:
    cbar.plot([t, t], [0, .2], color="white", lw=1)
    cbar.plot([t, t], [.8, 1], color="white", lw=1)
for s in cbar.spines.values():
    s.set_visible(False)

# ─── OVERLAY: titles, boxes, labels, legends (picture pixels) ──────────────────
ov = fig.add_axes([0, 0, 1, 1], zorder=10)
ov.set_xlim(0, W)
ov.set_ylim(H, 0)
ov.axis("off")

fit_text(ov, 392, 58, [("(A) Identification of Fibroblasts Gene Clusters", "normal")], 1279)
fit_text(ov, 2139, 60, [("(B) Fibroblasts Gene Expression and Subset Identification", "normal")], 1617)
fit_text(ov, 30, 1744, [("(C)", "normal"), ("APOE", "italic"), ("Effects on Gene Expression", "normal")], 781)
fit_text(ov, 871, 1746, [("(D) Cluster Distribution", "normal")], 481)
fit_text(ov, 1536, 1746, [("(E) Subset Distribution", "normal")], 470)
fit_text(ov, 2283, 1736, [("(F) Cluster 4 Gene Expression", "normal")], 620)
fit_text(ov, 3138, 1736, [("(G) Cluster 8 Gene Expression", "normal")], 627)

for x0, y0, x1, y1 in ((227, 272, 354, 1449), (1744, 268, 1802, 1456), (1890, 271, 2012, 1458)):
    ov.add_patch(Rectangle((x0, y0), x1 - x0, y1 - y0, fill=False, ec="#555555", lw=1.3))

ov.text(1165, 1487, "Cluster Number", fontsize=27.5, fontweight="bold", ha="center", va="center")
ov.text(1168, 2448, "Cluster Number", fontsize=33, fontweight="bold", ha="center", va="center")
ov.text(863, 2105, "Cell population (% of total)", fontsize=29, fontweight="bold", rotation=90,
        ha="center", va="center", color="#111111")
ov.text(1552, 2111, "Cell population (% of total)", fontsize=27, fontweight="bold", rotation=90,
        ha="center", va="center", color="#111111")

# subset underlines and names under panel B
for (x0, x1), cx, name in zip(((2283, 2654), (2881, 3305), (3503, 3661)), (2476, 3043, 3587), SUBSET_NAMES):
    ov.plot([x0, x1], [1405, 1405], color="black", lw=3)
    ov.text(cx, 1436, name, fontsize=30, ha="center", va="center", color="#222222")

# dendrogram stubs above panel F
ov.vlines(f_x, 1836, 1850, color=AXIS, lw=1.4)

# bar legends
for y_list, colours, x0, x1, tx in (((1951, 2002, 2053), d_colours, 1254, 1307, 1331),
                                    ((1958, 2004, 2050), ("#0000ff", "#000000", "#ff0000"), 1825, 1873, 1895)):
    for name, y, col in zip(ALLELES, y_list, colours):
        is_d4 = x0 == 1254 and name == "E4"
        ov.add_patch(Rectangle((x0, y), x1 - x0, 28, fc=col, ec="black" if is_d4 else col, lw=3 if is_d4 else 0))
        ov.text(tx, y + 15, name, fontsize=25, va="center", color="#222222")

# proportion legend
ov.text(1501, 1570, "proportion", fontsize=28, va="center", color="#222222")
ov.text(1636, 1666, "expression", fontsize=28, va="center", color="#222222")
ov.scatter([1711, 1840, 1969, 2100, 2235], [1566] * 5,
           s=[(32 * np.sqrt(max(v, .005)) * .72) ** 2 for v in SIZE_LEVELS], c="black", linewidths=0)
for x, lab in zip((1748, 1875, 2004, 2135, 2275), SIZE_LABELS):
    ov.text(x, 1570, lab, fontsize=21, va="center", color="#222222")

fig.savefig("out.png", dpi=100, facecolor="white")
